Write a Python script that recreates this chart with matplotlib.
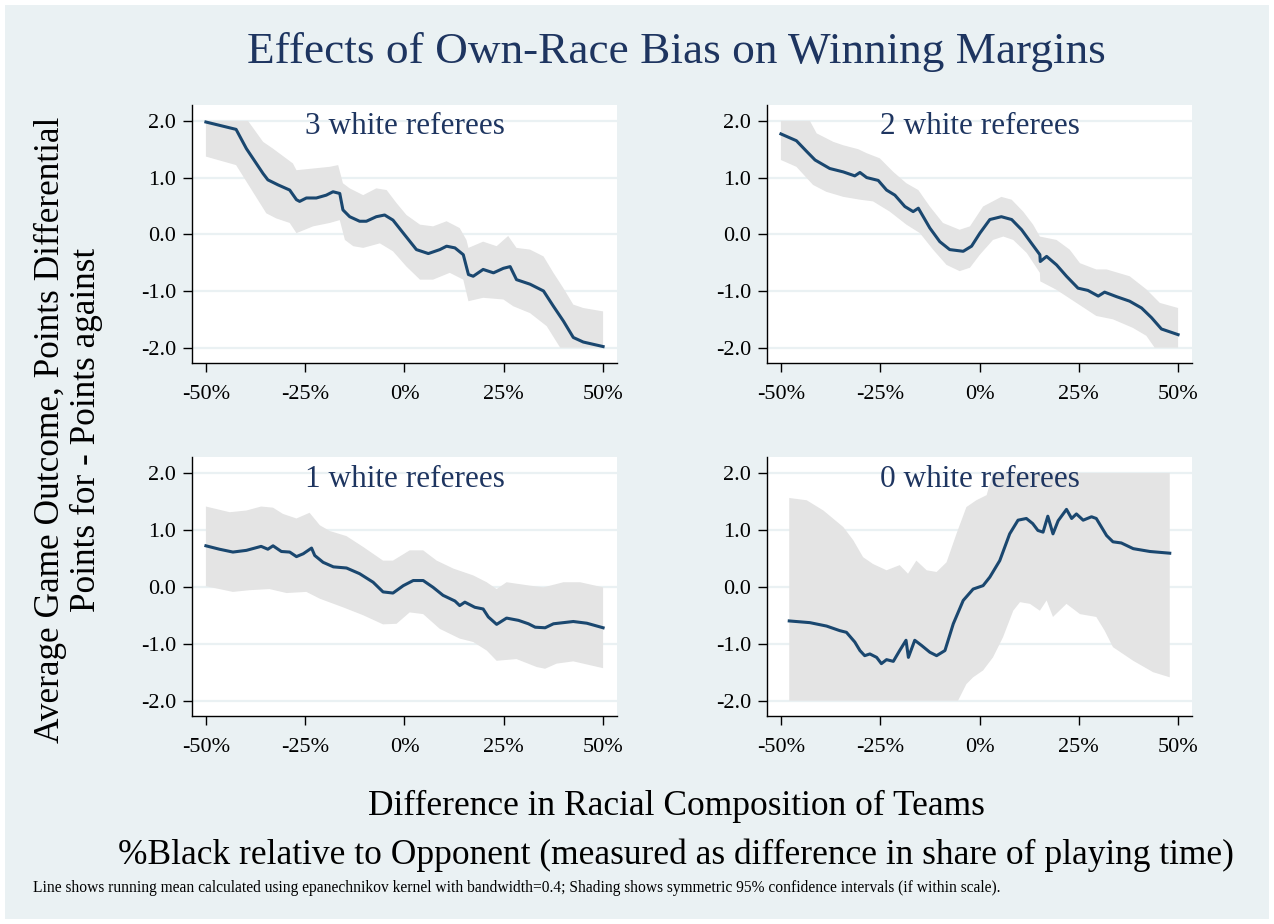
import numpy as np
import matplotlib
matplotlib.use('Agg')
import matplotlib.pyplot as plt
from matplotlib.patches import Rectangle

plt.rcParams['font.family'] = ['Liberation Serif', 'DejaVu Serif']

# ---- data (x in %, y in points) ----
panel_titles = ['3 white referees', '2 white referees', '1 white referees', '0 white referees']
tick_vals = [-50, -25, 0, 25, 50]
tick_labels = ['-50%', '-25%', '0%', '25%', '50%']
ytick_vals = [-2, -1, 0, 1, 2]
ytick_labels = ['-2.0', '-1.0', '0.0', '1.0', '2.0']

# 3 white referees
x3 = [-50, -42.4, -39.8, -35.6, -34.4, -31.8, -28.9, -27.2, -26.4, -24.7, -22.2, -19.7, -18.0, -16.3,
      -15.5, -13.8, -11.3, -9.6, -7.1, -5.0, -2.9, -0.3, 3.0, 6.0, 8.9, 10.6, 12.7, 14.8, 16.1, 17.3,
      19.8, 22.4, 24.9, 26.6, 28.2, 31.6, 35.0, 37.5, 40.0, 42.5, 45.0, 50.0]
y3 = [1.98, 1.85, 1.51, 1.07, 0.96, 0.87, 0.78, 0.61, 0.58, 0.64, 0.64, 0.69, 0.75, 0.72,
      0.43, 0.31, 0.23, 0.23, 0.31, 0.34, 0.25, 0.02, -0.27, -0.34, -0.27, -0.21, -0.24, -0.36, -0.71, -0.74,
      -0.62, -0.68, -0.60, -0.57, -0.80, -0.88, -1.00, -1.27, -1.53, -1.82, -1.90, -1.98]
hi3_x = [-50, -39.4, -35.6, -33.1, -28.1, -27.2, -23.0, -18.8, -16.7, -15.5, -13.8, -10.4, -7.1, -4.5,
         -2.0, 0.5, 3.9, 7.2, 10.6, 13.9, 15.6, 16.1, 19.8, 23.2, 26.1, 28.2, 31.6, 35.0, 37.5, 40.0,
         42.5, 45.0, 50.0]
hi3_y = [2.0, 2.0, 1.63, 1.51, 1.25, 1.13, 1.16, 1.19, 1.22, 0.90, 0.81, 0.69, 0.81, 0.78,
         0.55, 0.34, 0.17, 0.14, 0.23, 0.11, -0.10, -0.24, -0.13, -0.21, -0.03, -0.24, -0.27, -0.39, -0.68, -0.95,
         -1.24, -1.30, -1.36]
lo3_x = [-50, -42.4, -39.0, -34.8, -32.3, -28.9, -27.2, -23.0, -18.8, -16.3, -15.0, -12.9, -10.4, -6.2,
         -2.9, 0.5, 3.9, 7.2, 11.4, 14.8, 16.1, 19.8, 24.9, 27.4, 31.6, 35.8, 39.2, 50.0]
lo3_y = [1.37, 1.22, 0.84, 0.37, 0.28, 0.20, 0.02, 0.14, 0.20, 0.25, -0.10, -0.21, -0.24, -0.16,
         -0.30, -0.57, -0.80, -0.80, -0.68, -0.80, -1.18, -1.12, -1.15, -1.27, -1.39, -1.62, -2.0, -2.0]

# 2 white referees
x2 = [-50, -46.1, -43.5, -41.4, -37.7, -34.3, -31.4, -30.1, -28.4, -25.5, -23.4, -21.3, -18.8, -16.7,
      -15.4, -12.5, -10.0, -7.5, -4.1, -2.0, 0.1, 2.6, 5.5, 8.1, 10.6, 13.1, 15.2, 15.3, 16.9, 19.4,
      21.9, 24.8, 27.3, 29.9, 31.5, 34.5, 37.8, 40.8, 43.3, 45.8, 50.0]
y2 = [1.77, 1.65, 1.46, 1.31, 1.16, 1.10, 1.03, 1.09, 1.00, 0.95, 0.78, 0.69, 0.49, 0.40,
      0.46, 0.11, -0.13, -0.27, -0.30, -0.21, 0.02, 0.26, 0.31, 0.26, 0.08, -0.16, -0.36, -0.48, -0.39, -0.54,
      -0.74, -0.95, -0.99, -1.09, -1.02, -1.10, -1.18, -1.30, -1.47, -1.67, -1.77]
hi2_x = [-50, -42.7, -41.0, -36.8, -34.3, -30.5, -28.4, -25.1, -21.7, -18.4, -15.4, -12.5, -9.2, -5.0,
         -2.4, 0.9, 5.5, 8.1, 11.0, 13.5, 15.2, 19.4, 22.7, 25.3, 29.4, 32.0, 37.8, 42.0, 45.4, 50.0]
hi2_y = [2.0, 2.0, 1.78, 1.63, 1.57, 1.50, 1.43, 1.34, 1.10, 0.90, 0.78, 0.49, 0.20, 0.08,
         0.14, 0.49, 0.66, 0.61, 0.40, 0.17, -0.04, -0.10, -0.27, -0.51, -0.62, -0.62, -0.74, -0.97, -1.21, -1.30]
lo2_x = [-50, -46.1, -41.9, -38.6, -34.3, -30.1, -26.8, -22.6, -18.4, -15.0, -11.7, -8.3, -5.0, -2.4,
         0.1, 3.4, 6.0, 8.5, 11.9, 15.2, 15.3, 19.4, 24.4, 29.4, 33.6, 38.6, 42.0, 44.1, 50.0]
lo2_y = [1.31, 1.19, 0.87, 0.75, 0.66, 0.61, 0.58, 0.40, 0.17, 0.02, -0.27, -0.54, -0.65, -0.59,
         -0.36, -0.10, -0.04, -0.10, -0.33, -0.68, -0.83, -0.98, -1.21, -1.44, -1.50, -1.65, -1.79, -2.0, -2.0]

# 1 white referees
x1 = [-50, -46.6, -43.2, -39.8, -36.1, -34.4, -33.1, -31.0, -28.9, -27.2, -25.5, -23.4, -22.6, -20.5,
      -17.9, -14.6, -11.3, -7.9, -5.4, -2.9, -0.3, 2.2, 4.7, 7.2, 9.7, 12.7, 13.9, 15.2, 17.7, 19.8,
      21.1, 23.2, 25.7, 28.7, 31.2, 32.9, 35.4, 37.5, 42.5, 45.9, 50.0]
y1 = [0.72, 0.66, 0.61, 0.64, 0.71, 0.66, 0.72, 0.62, 0.61, 0.53, 0.58, 0.68, 0.55, 0.43,
      0.35, 0.33, 0.23, 0.08, -0.09, -0.11, 0.02, 0.11, 0.11, -0.01, -0.15, -0.25, -0.33, -0.27, -0.36, -0.39,
      -0.53, -0.66, -0.55, -0.59, -0.65, -0.71, -0.72, -0.65, -0.61, -0.64, -0.72]
hi1_x = [-50, -44.0, -39.8, -36.1, -33.1, -30.6, -27.2, -23.9, -21.3, -18.8, -14.6, -10.4, -5.4, -2.9,
         1.3, 4.7, 8.1, 12.3, 17.3, 20.7, 23.2, 25.7, 31.6, 35.0, 40.0, 44.2, 50.0]
hi1_y = [1.41, 1.31, 1.34, 1.41, 1.39, 1.28, 1.20, 1.30, 1.08, 0.98, 0.89, 0.70, 0.46, 0.46,
         0.64, 0.64, 0.46, 0.32, 0.20, 0.08, -0.04, 0.08, 0.02, -0.01, 0.08, 0.08, -0.01]
lo1_x = [-50, -43.2, -39.0, -34.0, -29.7, -24.7, -21.3, -15.5, -10.4, -5.4, -2.0, 1.3, 4.7, 8.9,
         13.9, 17.3, 20.7, 23.2, 28.2, 33.3, 35.4, 38.3, 42.5, 50.0]
lo1_y = [0.01, -0.09, -0.06, -0.04, -0.11, -0.09, -0.21, -0.36, -0.50, -0.66, -0.65, -0.45, -0.48, -0.74,
         -0.91, -0.97, -1.12, -1.30, -1.27, -1.41, -1.44, -1.35, -1.31, -1.43]

# 0 white referees
x0 = [-47.9, -42.7, -38.5, -35.2, -33.5, -31.4, -30.1, -28.9, -27.6, -25.9, -24.7, -23.4, -21.7, -20.1,
      -18.5, -17.9, -16.3, -14.6, -12.5, -10.8, -8.7, -6.6, -4.1, -1.6, 0.9, 2.6, 5.1, 7.6, 9.7, 11.8,
      13.4, 14.7, 16.0, 17.2, 18.5, 19.8, 21.9, 23.2, 24.4, 26.1, 28.2, 29.4, 32.0, 33.6, 35.7, 38.7,
      42.9, 47.9]
y0 = [-0.60, -0.63, -0.69, -0.77, -0.80, -0.97, -1.12, -1.21, -1.18, -1.24, -1.35, -1.28, -1.31, -1.12,
      -0.94, -1.24, -0.94, -1.03, -1.15, -1.21, -1.12, -0.65, -0.24, -0.04, 0.02, 0.17, 0.46, 0.93, 1.17, 1.20,
      1.11, 0.99, 0.96, 1.24, 0.93, 1.16, 1.36, 1.20, 1.28, 1.17, 1.23, 1.20, 0.90, 0.79, 0.77, 0.67,
      0.62, 0.59]
hi0_x = [-47.9, -43.5, -39.3, -34.3, -31.8, -29.3, -26.8, -23.4, -20.1, -18.0, -15.9, -13.3, -10.8, -8.3,
         -5.8, -3.3, -0.8, 1.8, 3.4, 47.9]
hi0_y = [1.56, 1.52, 1.34, 1.05, 0.82, 0.52, 0.40, 0.29, 0.38, 0.23, 0.46, 0.29, 0.26, 0.43,
         0.93, 1.40, 1.52, 1.61, 2.0, 2.0]
lo0_x = [-47.9, -5.4, -3.3, -1.6, 0.9, 3.4, 5.9, 8.5, 10.2, 12.7, 15.2, 16.9, 18.5, 21.9,
         25.3, 29.4, 31.5, 33.6, 38.7, 43.7, 47.9]
lo0_y = [-2.0, -2.0, -1.71, -1.59, -1.47, -1.24, -0.89, -0.42, -0.27, -0.30, -0.42, -0.24, -0.53, -0.30,
         -0.48, -0.53, -0.77, -1.06, -1.30, -1.50, -1.59]

panels = [
    (x3, y3, hi3_x, hi3_y, lo3_x, lo3_y),
    (x2, y2, hi2_x, hi2_y, lo2_x, lo2_y),
    (x1, y1, hi1_x, hi1_y, lo1_x, lo1_y),
    (x0, y0, hi0_x, hi0_y, lo0_x, lo0_y),
]

# ---- styling ----
bg = '#EAF1F3'
navy = '#1A476F'
title_col = '#1E3560'
shade = '#E4E4E4'

fig = plt.figure(figsize=(12.74, 9.24), dpi=100)
fig.patch.set_facecolor('white')
fig.patches.append(Rectangle((5 / 1274, 5 / 924), 1264 / 1274, 914 / 924, transform=fig.transFigure,
                             facecolor=bg, edgecolor='none', zorder=-10))

W, H = 1274, 924
boxes = [(192, 105, 617, 363), (767, 105, 1192, 363), (192, 457, 617, 716), (767, 457, 1192, 716)]

for (l, t, r, b), (lx, ly, hx, hy, ox, oy), name in zip(boxes, panels, panel_titles):
    ax = fig.add_axes([l / W, 1 - b / H, (r - l) / W, (b - t) / H])
    ax.set_facecolor('white')
    ax.fill(np.r_[hx, ox[::-1]], np.r_[hy, oy[::-1]], color=shade, lw=0, zorder=1)
    ax.plot(lx, ly, color=navy, lw=2.2, zorder=3)
    ax.set_xlim(-53.5, 53.5)
    ax.set_ylim(-2.27, 2.28)
    ax.set_xticks(tick_vals)
    ax.set_xticklabels(tick_labels)
    ax.set_yticks(ytick_vals)
    ax.set_yticklabels(ytick_labels)
    ax.tick_params(labelsize=16, length=6.5, width=1, color='black')
    ax.tick_params(axis='x', pad=9)
    ax.tick_params(axis='y', pad=5)
    ax.grid(axis='y', color=bg, lw=1.6, zorder=0)
    ax.set_axisbelow(True)
    for s in ['top', 'right']:
        ax.spines[s].set_visible(False)
    for s in ['left', 'bottom']:
        ax.spines[s].set_linewidth(1.0)
    ax.text(0.5, 0.915, name, transform=ax.transAxes, ha='center', va='center',
            fontsize=22.5, color=title_col, zorder=4)

fig.text(676 / W, 1 - 52 / H, 'Effects of Own-Race Bias on Winning Margins',
         ha='center', va='center', fontsize=32.6, color=title_col)
fig.text(50 / W, 1 - 430 / H, 'Average Game Outcome, Points Differential',
         rotation=90, ha='center', va='center', fontsize=25.4)
fig.text(86 / W, 1 - 430 / H, 'Points for - Points against',
         rotation=90, ha='center', va='center', fontsize=25.4)
fig.text(676 / W, 1 - 806 / H, 'Difference in Racial Composition of Teams',
         ha='center', va='center', fontsize=25.5)
fig.text(676 / W, 1 - 855 / H,
         '%Black relative to Opponent (measured as difference in share of playing time)',
         ha='center', va='center', fontsize=25.5)
fig.text(33 / W, 1 - 888 / H,
         'Line shows running mean calculated using epanechnikov kernel with bandwidth=0.4; '
         'Shading shows symmetric 95% confidence intervals (if within scale).',
         ha='left', va='center', fontsize=11.2)

fig.savefig('out.png', dpi=100, facecolor=fig.get_facecolor())
